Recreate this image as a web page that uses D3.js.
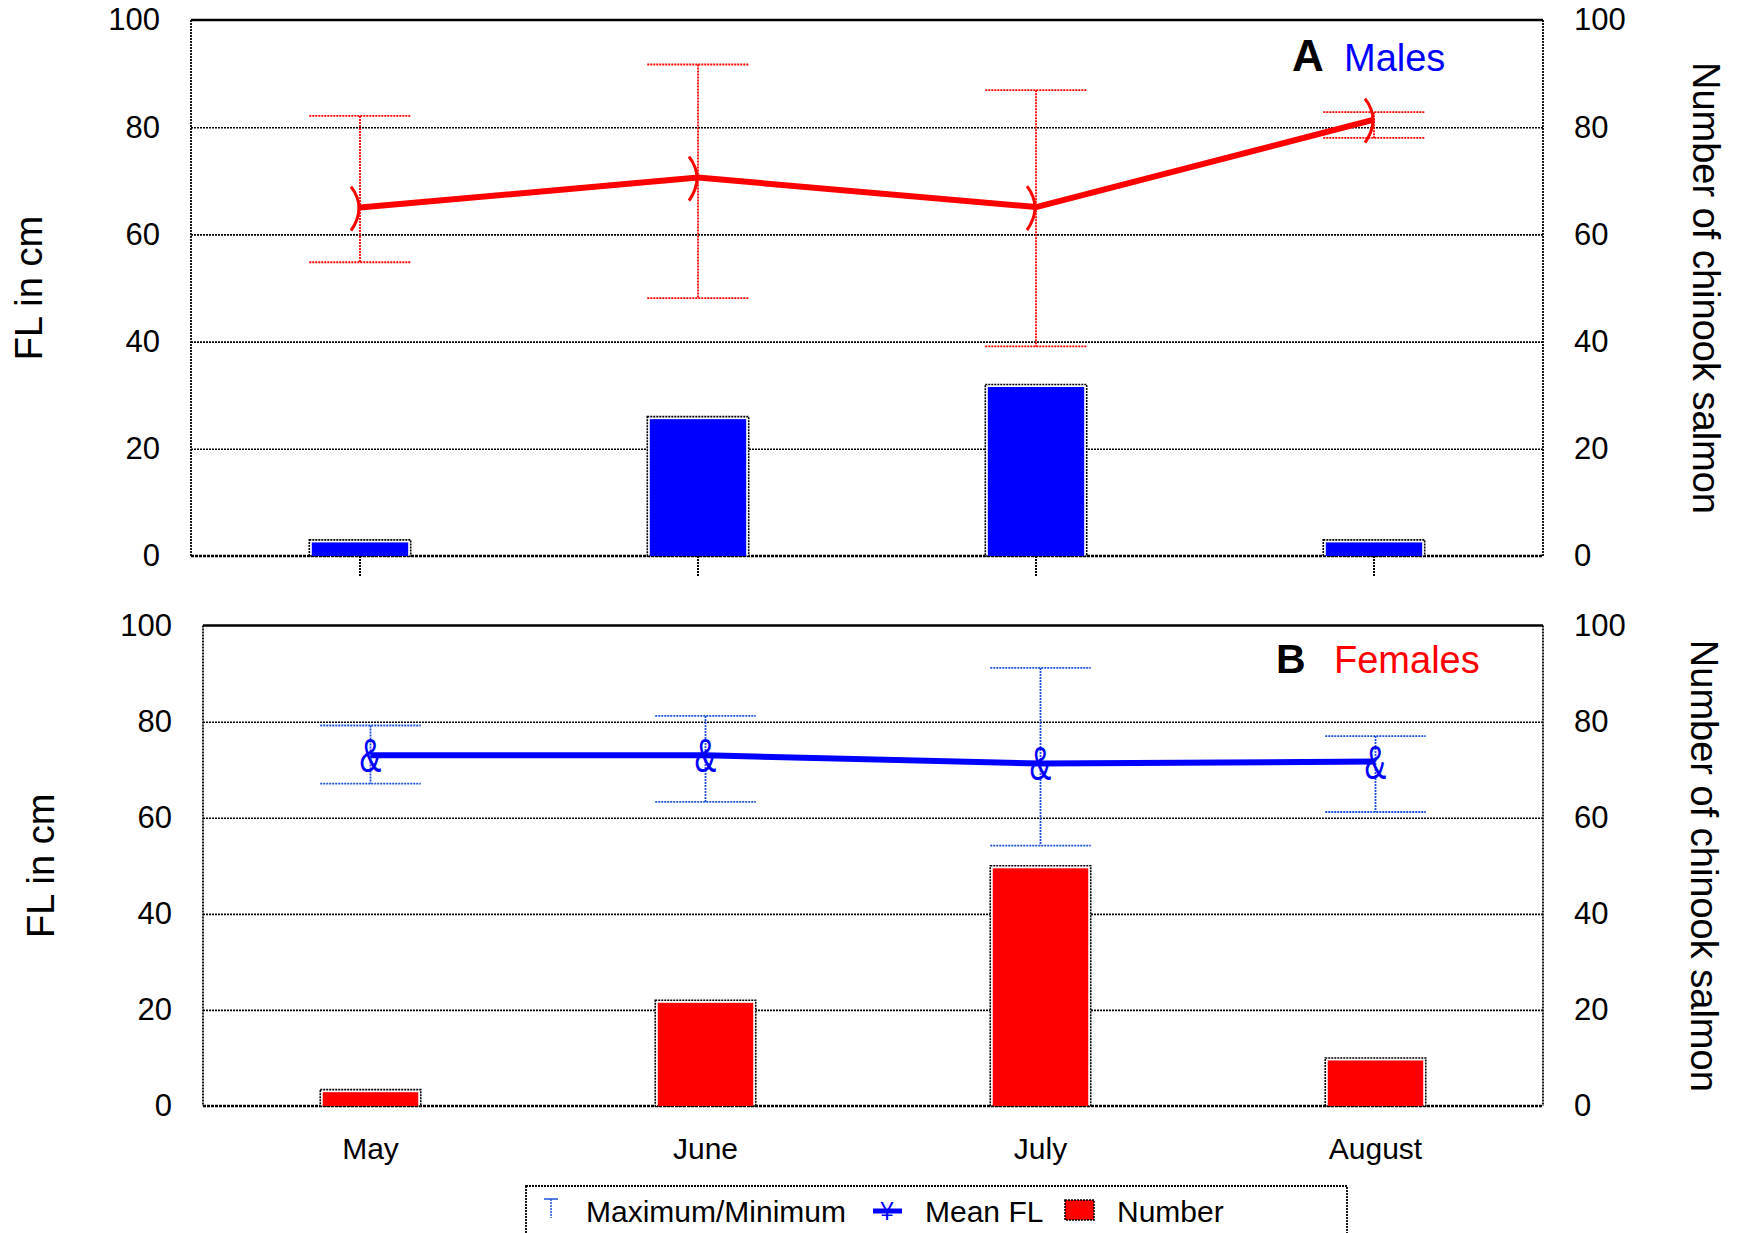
<!DOCTYPE html>
<html>
<head>
<meta charset="utf-8">
<script src="https://cdn.jsdelivr.net/npm/d3@7"></script>
<style>
  body { margin: 0; background: #fff; }
  text { font-family: "Liberation Sans", Arial, sans-serif; fill: #000; }
</style>
</head>
<body>
<div class="chart"></div>
<script>
var svgWidth = 1738;
var svgHeight = 1233;

// data
var months = ["May", "June", "July", "August"];
var yTicks = [0, 20, 40, 60, 80, 100];
var gridTicks = [20, 40, 60, 80];

var maleMean = [65.0, 70.6, 65.1, 81.4];
var maleMax = [82.1, 91.7, 86.9, 82.8];
var maleMin = [54.8, 48.1, 39.1, 78.0];
var maleCount = [3, 26, 32, 3];

var femaleMean = [73.0, 73.0, 71.3, 71.7];
var femaleMax = [79.2, 81.2, 91.2, 77.0];
var femaleMin = [67.1, 63.3, 54.2, 61.2];
var femaleCount = [3.4, 22, 50, 10];

var svg = d3.select(".chart")
  .append("svg")
  .attr("width", svgWidth)
  .attr("height", svgHeight);

var errBlue = "#1f52dc";

function drawPanel(p) {
  var x = d3.scaleBand().domain(months).range([p.left, p.right]).paddingInner(0).paddingOuter(0);
  var y = d3.scaleLinear().domain([0, 100]).range([p.bottom, p.top]);
  var barW = x.bandwidth() * 0.3;
  var cx = d => x(d) + x.bandwidth() / 2;
  var g = svg.append("g");

  // gridlines
  g.append("g")
    .attr("transform", `translate(${p.left},0)`)
    .call(d3.axisLeft(y).tickValues(gridTicks).tickSize(-(p.right - p.left)).tickFormat(""))
    .call(a => a.select(".domain").remove())
    .selectAll("line")
    .attr("stroke", "#000")
    .attr("stroke-width", 1.6)
    .attr("stroke-dasharray", "2,1");

  // left and right tick labels
  [[d3.axisLeft, p.left], [d3.axisRight, p.right]].forEach(function(ax) {
    g.append("g")
      .attr("transform", `translate(${ax[1]},0)`)
      .call(ax[0](y).tickValues(yTicks).tickSize(0).tickPadding(31))
      .call(a => a.select(".domain").remove())
      .selectAll("text")
      .attr("font-size", "31px")
      .attr("font-family", "Liberation Sans, Arial, sans-serif")
      .attr("fill", "#000");
  });

  // frame
  g.append("line").attr("x1", p.left).attr("x2", p.right).attr("y1", p.top).attr("y2", p.top)
    .attr("stroke", "#000").attr("stroke-width", 2.5);
  g.append("line").attr("x1", p.left).attr("x2", p.right).attr("y1", p.bottom).attr("y2", p.bottom)
    .attr("stroke", "#000").attr("stroke-width", 2.5).attr("stroke-dasharray", "3,1");
  [p.left, p.right].forEach(function(xx) {
    g.append("line").attr("x1", xx).attr("x2", xx).attr("y1", p.top).attr("y2", p.bottom)
      .attr("stroke", "#000").attr("stroke-width", 1.8).attr("stroke-dasharray", "2,1");
  });

  if (p.ticks) {
    g.append("g")
      .attr("transform", `translate(0,${p.bottom})`)
      .call(d3.axisBottom(x).tickSize(20).tickFormat(""))
      .call(a => a.select(".domain").remove())
      .selectAll("line")
      .attr("stroke", "#000")
      .attr("stroke-width", 2)
      .attr("stroke-dasharray", "2,1");
  }
  if (p.labels) {
    g.append("g")
      .attr("transform", `translate(0,${p.bottom})`)
      .call(d3.axisBottom(x).tickSize(0).tickPadding(32))
      .call(a => a.select(".domain").remove())
      .selectAll("text")
      .attr("font-size", "30px")
      .attr("font-family", "Liberation Sans, Arial, sans-serif")
      .attr("fill", "#000");
  }

  // bars
  var bars = g.selectAll(".bar").data(months).enter();
  bars.append("rect")
    .attr("x", d => cx(d) - barW / 2)
    .attr("y", (d, i) => y(p.count[i]))
    .attr("width", barW)
    .attr("height", (d, i) => p.bottom - y(p.count[i]))
    .attr("fill", "#fff")
    .attr("stroke", "#000")
    .attr("stroke-width", 1.6)
    .attr("stroke-dasharray", "2,1");
  bars.append("rect")
    .attr("x", d => cx(d) - barW / 2 + 2.5)
    .attr("y", (d, i) => y(p.count[i]) + 2.5)
    .attr("width", barW - 5)
    .attr("height", (d, i) => Math.max(0, p.bottom - y(p.count[i]) - 2.5))
    .attr("fill", p.barColor);

  // max / min bars
  var err = g.selectAll(".err").data(months).enter().append("g")
    .attr("stroke", p.errColor)
    .attr("stroke-width", 1.8)
    .attr("stroke-dasharray", "2,1");
  err.append("line")
    .attr("x1", cx).attr("x2", cx)
    .attr("y1", (d, i) => y(p.max[i]))
    .attr("y2", (d, i) => y(p.min[i]));
  err.append("line")
    .attr("x1", d => cx(d) - barW / 2).attr("x2", d => cx(d) + barW / 2)
    .attr("y1", (d, i) => y(p.max[i])).attr("y2", (d, i) => y(p.max[i]));
  err.append("line")
    .attr("x1", d => cx(d) - barW / 2).attr("x2", d => cx(d) + barW / 2)
    .attr("y1", (d, i) => y(p.min[i])).attr("y2", (d, i) => y(p.min[i]));

  // mean line
  var line = d3.line()
    .x((d, i) => cx(months[i]))
    .y(d => y(d));
  g.append("path")
    .datum(p.mean)
    .attr("d", line)
    .attr("fill", "none")
    .attr("stroke", p.lineColor)
    .attr("stroke-width", 6)
    .attr("stroke-linejoin", "round");

  // markers
  if (p.marker === "paren") {
    g.selectAll(".mk").data(months).enter().append("path")
      .attr("d", function(d, i) {
        var mx = cx(d), my = y(p.mean[i]);
        return `M${mx - 9},${my - 21} Q${mx + 7},${my} ${mx - 9},${my + 23}`;
      })
      .attr("fill", "none")
      .attr("stroke", p.lineColor)
      .attr("stroke-width", 3);
  } else {
    g.selectAll(".mk").data(months).enter().append("text")
      .attr("transform", (d, i) => `translate(${cx(d)},${y(p.mean[i]) + 17}) scale(0.68,1)`)
      .attr("text-anchor", "middle")
      .attr("font-size", "48px")
      .style("fill", p.lineColor)
      .text("&");
  }

  // axis titles
  g.append("text")
    .attr("transform", `translate(${p.ylabX},${(p.top + p.bottom) / 2}) rotate(-90)`)
    .attr("text-anchor", "middle")
    .attr("font-size", "38px")
    .text("FL in cm");
  g.append("text")
    .attr("transform", `translate(${p.y2labX},${(p.top + p.bottom) / 2}) rotate(90)`)
    .attr("text-anchor", "middle")
    .attr("font-size", "38px")
    .text("Number of chinook salmon");

  // panel letter + sex
  g.append("text")
    .attr("x", p.letterX).attr("y", p.letterY)
    .attr("font-size", p.letterSize)
    .attr("font-weight", "bold")
    .text(p.letter);
  g.append("text")
    .attr("x", p.nameX).attr("y", p.letterY)
    .attr("font-size", "38px")
    .style("fill", p.nameColor)
    .text(p.name);
}

drawPanel({
  left: 191, right: 1543, top: 20, bottom: 556,
  count: maleCount, mean: maleMean, max: maleMax, min: maleMin,
  barColor: "#0000ff", errColor: "#ff0000", lineColor: "#ff0000",
  marker: "paren", ticks: true, labels: false,
  ylabX: 42, y2labX: 1693,
  letter: "A", letterX: 1292, letterY: 71, letterSize: "44px",
  name: "Males", nameX: 1344, nameColor: "#0000ff"
});

drawPanel({
  left: 203, right: 1543, top: 625.6, bottom: 1106,
  count: femaleCount, mean: femaleMean, max: femaleMax, min: femaleMin,
  barColor: "#ff0000", errColor: errBlue, lineColor: "#0000ff",
  marker: "amp", ticks: false, labels: true,
  ylabX: 53.6, y2labX: 1691,
  letter: "B", letterX: 1276, letterY: 673, letterSize: "41px",
  name: "Females", nameX: 1334, nameColor: "#ff0000"
});

// legend
var legend = svg.append("g");
legend.append("rect")
  .attr("x", 526).attr("y", 1186)
  .attr("width", 821).attr("height", 80)
  .attr("fill", "none")
  .attr("stroke", "#000")
  .attr("stroke-width", 1.8)
  .attr("stroke-dasharray", "2,1");

legend.append("line").attr("x1", 544).attr("x2", 558).attr("y1", 1199).attr("y2", 1199)
  .attr("stroke", errBlue).attr("stroke-width", 1.5);
legend.append("line").attr("x1", 551).attr("x2", 551).attr("y1", 1199).attr("y2", 1218)
  .attr("stroke", errBlue).attr("stroke-width", 1.5).attr("stroke-dasharray", "2,1");
legend.append("text").attr("x", 586).attr("y", 1222).attr("font-size", "30px").text("Maximum/Minimum");

legend.append("line").attr("x1", 873).attr("x2", 902).attr("y1", 1211).attr("y2", 1211)
  .attr("stroke", "#0000ff").attr("stroke-width", 5);
legend.append("text")
  .attr("transform", "translate(887,1220) scale(0.9,1)")
  .attr("text-anchor", "middle")
  .attr("font-size", "26px")
  .style("fill", "#0000ff")
  .text("¥");
legend.append("text").attr("x", 925).attr("y", 1222).attr("font-size", "30px").text("Mean FL");

legend.append("rect")
  .attr("x", 1065).attr("y", 1200).attr("width", 29).attr("height", 20)
  .attr("fill", "#ff0000")
  .attr("stroke", "#000")
  .attr("stroke-width", 1.6)
  .attr("stroke-dasharray", "2,1");
legend.append("text").attr("x", 1117).attr("y", 1222).attr("font-size", "30px").text("Number");
</script>
</body>
</html>
